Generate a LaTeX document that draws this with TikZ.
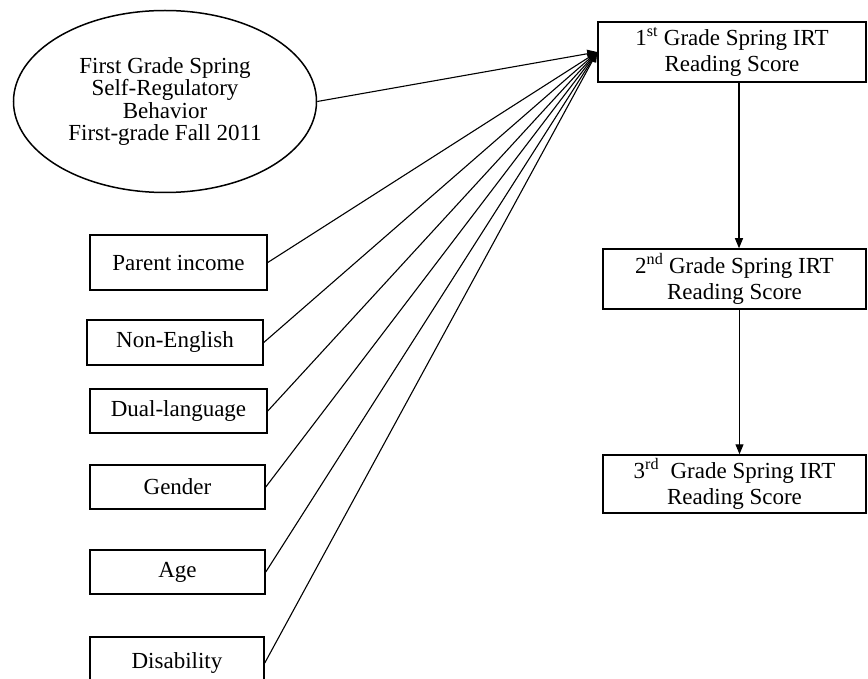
\documentclass[tikz,border=0pt]{standalone}
\usepackage{fontspec}
\setmainfont{Liberation Serif}
\usetikzlibrary{shapes.geometric,arrows.meta}
\begin{document}
\begin{tikzpicture}[x=1pt,y=-1pt,
  box/.style={draw,line width=1.5pt,rectangle,inner sep=0pt,align=center,font=\fontsize{23}{25.5}\selectfont},
  oval/.style={draw,ellipse,line width=1.5pt,inner sep=0pt,align=center,font=\fontsize{23}{22.5}\selectfont},
  arr/.style={line width=1.1pt,-{Triangle[length=10pt,width=8pt]}}]
\useasboundingbox (0,0) rectangle (868,679);
\clip (0,0) rectangle (868,679);
\node[oval,minimum width=303pt,minimum height=182pt] (ell) at (165,101.5)
  {\rule{0pt}{8pt}First Grade Spring\\Self-Regulatory\\Behavior\\First-grade Fall 2011};
\node[box,minimum width=268pt,minimum height=60pt] (b1) at (732,52)
  {1\textsuperscript{st} Grade Spring IRT\\Reading Score};
\node[box,minimum width=263pt,minimum height=60pt] (b2) at (734.5,279)
  {2\textsuperscript{nd} Grade Spring IRT\\Reading Score};
\node[box,minimum width=263pt,minimum height=58pt] (b3) at (734.5,484)
  {3\textsuperscript{rd}~ Grade Spring IRT\\Reading Score};
\node[box,minimum width=177pt,minimum height=55pt] (pi) at (178.5,262.5) {Parent income};
\node[box,minimum width=176pt,minimum height=45pt] (ne) at (175,342.5) {Non-English};
\node[box,minimum width=177pt,minimum height=44pt] (dl) at (178.5,411) {Dual-language};
\node[box,minimum width=175pt,minimum height=44pt] (ge) at (177.5,487) {Gender};
\node[box,minimum width=175pt,minimum height=44pt] (ag) at (177.5,572) {Age};
\node[box,minimum width=174pt,minimum height=52pt] (di) at (177,663) {Disability};
\foreach \n in {ell,pi,ne,dl,ge,ag,di}
  \draw[arr] (\n.east) -- (b1.west);
\draw[arr] ([xshift=7pt]b1.south) -- ([xshift=7pt]b1.south |- b2.north);
\draw[arr] ([xshift=5pt]b2.south) -- ([xshift=5pt]b2.south |- b3.north);
\end{tikzpicture}
\end{document}
